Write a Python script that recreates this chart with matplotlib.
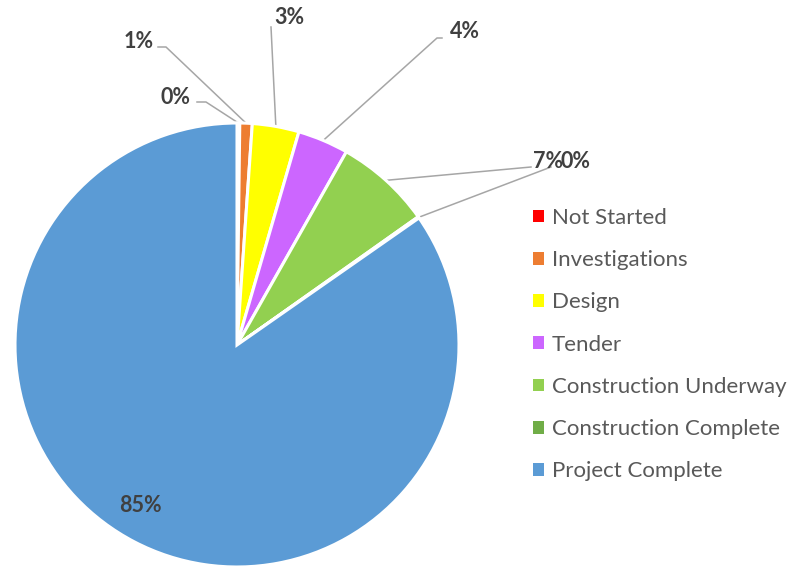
import numpy as np
import matplotlib
matplotlib.use("Agg")
import matplotlib.pyplot as plt
from matplotlib.patches import Rectangle

# project status breakdown (% of projects)
stages = ["Not Started", "Investigations", "Design", "Tender",
          "Construction Underway", "Construction Complete", "Project Complete"]
shares = [0.2, 0.9, 3.4, 3.7, 7.0, 0.1, 84.7]
colors = ["#FF0000", "#ED7D31", "#FFFF00", "#CC66FF", "#92D050", "#70AD47", "#5B9BD5"]

W, H = 789, 566
plt.rcParams["font.family"] = ["Lato", "DejaVu Sans"]

fig = plt.figure(figsize=(W / 100, H / 100), dpi=100)
ax = fig.add_axes([0, 0, 1, 1])

cx, cy, r = 237, H - 345, 222
wedges, _ = ax.pie(shares, colors=colors, center=(cx, cy), radius=r,
                   startangle=90, counterclock=False, frame=True,
                   wedgeprops=dict(edgecolor="white", linewidth=2.2))
ax.set_xlim(0, W); ax.set_ylim(0, H); ax.axis("off")

# label text position, leader start, elbow (pixels from top-left); None = inside
label_pos = [
    ((176, 97), (197, 102), (206, 102)),
    ((139, 42), (158, 47), (166, 47)),
    ((289, 17), (271, 27), None),
    ((465, 32), (442, 38), (437, 38)),
    ((548, 161), (531, 167), None),
    ((576, 161), (551, 167), None),
    ((140, 505), None, None),
]

for w, v, (txt, start, elbow) in zip(wedges, shares, label_pos):
    mid = np.deg2rad((w.theta1 + w.theta2) / 2)
    ax.text(txt[0], H - txt[1], f"{v:.0f}%", ha="center", va="center",
            fontsize=15.5, fontweight="bold", color="#404040")
    if start is None:
        continue
    pts = [start] + ([elbow] if elbow else [])
    xs = [p[0] for p in pts] + [cx + r * np.cos(mid)]
    ys = [H - p[1] for p in pts] + [cy + r * np.sin(mid)]
    ax.plot(xs, ys, color="#A6A6A6", lw=1.1, zorder=0.5)

handles = [Rectangle((0, 0), 1, 1, facecolor=c, edgecolor="none") for c in colors]
ax.legend(handles, stages, loc="upper left", bbox_to_anchor=(533 / W, 1 - 208 / H),
          frameon=False, fontsize=16, labelcolor="#595959", handlelength=0.5,
          handleheight=0.5, handletextpad=0.35, labelspacing=1.0,
          borderpad=0, borderaxespad=0)

fig.savefig("out.png", dpi=100)
